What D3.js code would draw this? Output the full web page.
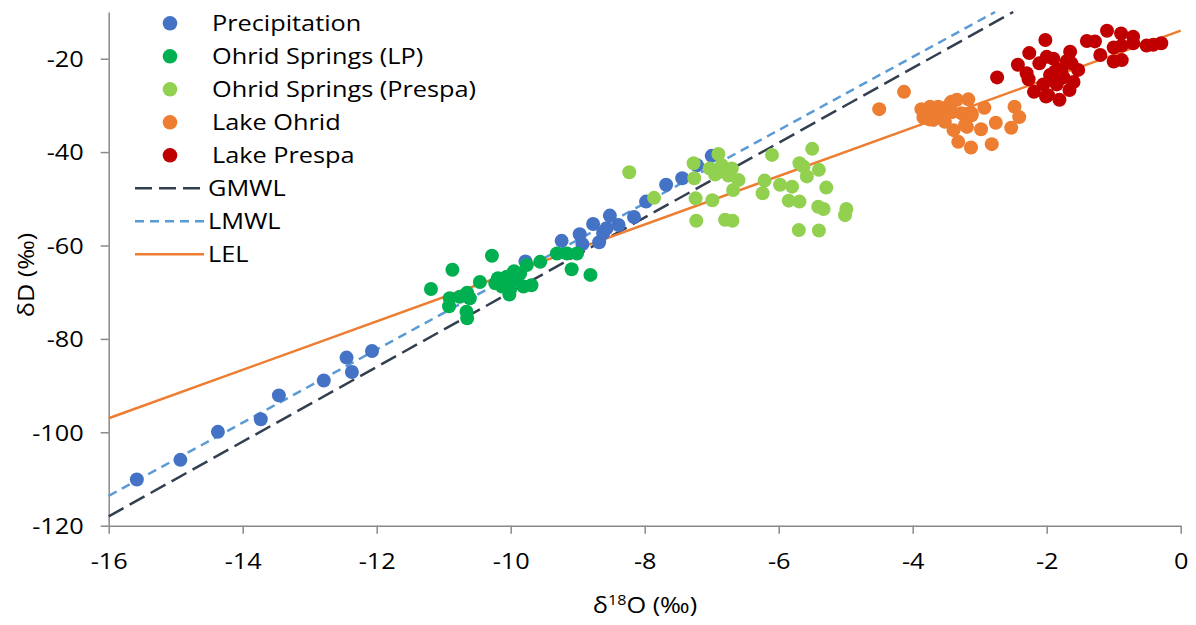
<!DOCTYPE html>
<html lang="en">
<head>
<meta charset="UTF-8">
<title>Isotopes</title>
<script src="https://cdn.jsdelivr.net/npm/d3@7"></script>
<style>
  body{ margin:0; background:#fff; }
  svg{ display:block; font-family:"Open Sans", sans-serif; }
  .axis path, .axis line{ stroke:#898989; stroke-width:1.5; }
  .axis text{ fill:#000; font-size:22px; font-family:"Open Sans", sans-serif; }
  .legendText{ font-size:22px; fill:#000; }
  .title{ font-size:22px; fill:#000; }
</style>
</head>
<body>
<div id="root"></div>
<script>
// δ18O / δD pairs
const precipitation = [
  [-15.58,-110.1],[-14.93,-105.9],[-14.37,-99.9],[-13.73,-97.2],[-13.46,-92.1],[-12.79,-88.9],
  [-12.45,-84.0],[-12.37,-87.1],[-12.07,-82.6],[-9.78,-63.4],[-9.24,-59.0],[-8.97,-57.6],
  [-8.93,-59.7],[-8.77,-55.4],[-8.68,-59.3],[-8.62,-57.4],[-8.57,-56.3],[-8.52,-53.6],
  [-8.39,-55.6],[-8.16,-53.9],[-7.98,-50.6],[-7.68,-47.0],[-7.44,-45.6],[-7.22,-42.8],[-7.0,-40.8]
]
const springsLP = [
  [-11.19,-69.3],[-10.87,-65.2],[-10.28,-62.2],[-10.91,-71.3],[-10.92,-73.0],[-10.76,-71.0],
  [-10.65,-70.1],[-10.61,-71.3],[-10.46,-67.8],[-10.66,-74.2],[-10.65,-75.6],[-10.23,-68.1],
  [-10.19,-67.0],[-10.13,-68.8],[-10.06,-66.7],[-10.01,-69.5],[-10.02,-70.5],[-9.91,-67.4],
  [-9.86,-66.0],[-9.76,-64.2],[-9.81,-68.8],[-9.69,-68.5],[-9.56,-63.5],[-9.31,-61.7],
  [-9.16,-61.7],[-9.01,-61.7],[-9.09,-65.1],[-8.81,-66.3],[-10.1,-67.5],[-10.05,-68.2],[-9.95,-65.5]
]
const springsPrespa = [
  [-8.23,-44.3],[-7.86,-49.8],[-7.27,-42.4],[-7.26,-45.6],[-6.90,-40.4],[-7.03,-43.5],
  [-6.88,-44.2],[-6.95,-44.8],[-6.85,-42.8],[-6.70,-43.5],[-6.75,-45.0],[-6.60,-46.0],
  [-6.68,-48.1],[-7.24,-49.9],[-6.99,-50.3],[-7.23,-54.7],[-6.80,-54.5],[-6.69,-54.7],
  [-6.21,-46.1],[-6.24,-48.8],[-6.10,-40.6],[-5.98,-47.0],[-5.80,-47.4],[-5.85,-50.4],
  [-5.69,-50.6],[-5.70,-56.7],[-5.69,-42.4],[-5.63,-43.1],[-5.58,-45.2],[-5.50,-39.3],
  [-5.40,-43.8],[-5.29,-47.6],[-5.41,-51.7],[-5.33,-52.2],[-5.40,-56.8],[-4.99,-52.2],[-5.01,-53.5]
]
const lakeOhrid = [
  [-4.50,-30.8],[-4.13,-27.1],[-3.87,-30.8],[-3.80,-31.5],[-3.74,-30.3],[-3.62,-30.3],
  [-3.84,-32.6],[-3.69,-32.1],[-3.69,-33.1],[-3.57,-32.4],[-3.59,-31.0],[-3.50,-30.5],
  [-3.44,-29.6],[-3.42,-29.2],[-3.34,-28.8],[-3.17,-28.7],[-3.41,-31.4],[-3.27,-31.7],
  [-3.12,-32.1],[-3.12,-31.7],[-3.39,-35.3],[-3.32,-37.8],[-3.19,-34.6],[-3.13,-39.0],
  [-2.98,-35.1],[-2.93,-30.5],[-2.82,-38.3],[-2.76,-33.7],[-2.53,-34.8],[-2.48,-30.3],
  [-2.41,-32.5],[-3.22,-34.2],[-3.52,-33.5],[-3.75,-33.0]
]
const lakePrespa = [
  [-2.74,-24.0],[-2.43,-21.3],[-2.26,-18.8],[-2.27,-24.4],[-2.19,-27.1],[-2.02,-16.0],
  [-2.11,-21.0],[-2.00,-19.6],[-1.88,-22.8],[-1.88,-24.6],[-1.98,-27.8],[-1.81,-28.8],
  [-1.66,-26.7],[-1.78,-22.2],[-1.65,-18.5],[-1.63,-21.0],[-1.53,-22.4],[-1.40,-16.2],
  [-1.28,-16.3],[-1.20,-19.2],[-1.10,-14.0],[-1.00,-20.6],[-0.89,-14.6],[-1.00,-17.6],
  [-0.88,-17.2],[-0.88,-20.3],[-0.71,-15.3],[-0.71,-16.7],[-0.51,-17.2],[-0.41,-17.0],
  [-0.29,-16.7],[-2.30,-23.1],[-2.01,-28.1],[-1.90,-20.0],[-1.85,-25.5],[-1.75,-24.0],
  [-1.95,-23.5],[-1.70,-20.5],[-1.60,-25.0],[-2.05,-25.5]
]
// line end points (δ18O, δD)
const gmwl = [[-16,-118],[-2.5,-10]]
const lmwl = [[-16,-113.6],[-2.77,-10]]
const lel  = [[-16,-97],[0,-14]]

const xTicks = [-16,-14,-12,-10,-8,-6,-4,-2,0]
const yTicks = [-120,-100,-80,-60,-40,-20]

const width = 1196, height = 625
const plotLeft = 108.7, plotRight = 1180.7, plotTop = 12, plotBottom = 525.7
const SX = 1.15   // source font renders wider than Open Sans, stretch text a bit

const svg = d3.select('#root').append('svg').attr('width',width).attr('height',height)

const xScale = d3.scaleLinear().domain([-16,0]).range([plotLeft,plotRight])
const yScale = d3.scaleLinear().domain([-120,-10]).range([plotBottom,plotTop])

// stretch text horizontally around its own anchor x
const stretch = sel => sel.attr('transform', function(){
  const x = +this.getAttribute('x') || 0
  return `translate(${x},0) scale(${SX},1) translate(${-x},0)`
})
const plainMinus = d => String(d)   // excel uses a hyphen, not the unicode minus

// axes
const xAxis = d3.axisBottom(xScale).tickValues(xTicks).tickFormat(plainMinus)
  .tickSize(8).tickPadding(20).tickSizeOuter(0)
svg.append('g').attr('class','axis').attr('transform',`translate(0,${plotBottom})`).call(xAxis)
  .selectAll('text').call(stretch)

const yAxis = d3.axisLeft(yScale).tickValues(yTicks).tickFormat(plainMinus)
  .tickSize(8).tickPadding(17).tickSizeOuter(0)
svg.append('g').attr('class','axis').attr('transform',`translate(${plotLeft},0)`).call(yAxis)
  .selectAll('text').attr('dy','0.35em').call(stretch)

// lines
const lineGen = d3.line().x(d => xScale(d[0])).y(d => yScale(d[1]))
const lines = [
  {name:'GMWL', data:gmwl, color:'#333F50', dash:'17 7'},
  {name:'LMWL', data:lmwl, color:'#5B9BD5', dash:'9 6'},
  {name:'LEL',  data:lel,  color:'#ED7D31', dash:null}
]
lines.forEach(l => {
  svg.append('path').attr('d', lineGen(l.data))
    .attr('fill','none').attr('stroke',l.color).attr('stroke-width',2.5)
    .attr('stroke-dasharray', l.dash)
})

// points
const series = [
  {name:'Precipitation', data:precipitation, color:'#4472C4'},
  {name:'Ohrid Springs (LP)', data:springsLP, color:'#00B050'},
  {name:'Ohrid Springs (Prespa)', data:springsPrespa, color:'#92D050'},
  {name:'Lake Ohrid', data:lakeOhrid, color:'#ED7D31'},
  {name:'Lake Prespa', data:lakePrespa, color:'#C00000'}
]
series.forEach(s => {
  svg.append('g').selectAll('circle').data(s.data).enter().append('circle')
    .attr('cx', d => xScale(d[0])).attr('cy', d => yScale(d[1]))
    .attr('r', 7).attr('fill', s.color)
})

// legend
const legend = svg.append('g')
series.forEach((s,i) => {
  const y = 23.3 + i*33
  legend.append('circle').attr('cx',170).attr('cy',y).attr('r',7.3).attr('fill',s.color)
  legend.append('text').attr('class','legendText').attr('x',212).attr('y',y)
    .attr('dy','0.36em').text(s.name).call(stretch)
})
lines.forEach((l,i) => {
  const y = 23.3 + (i+5)*33
  legend.append('line').attr('x1',135).attr('x2',204).attr('y1',y).attr('y2',y)
    .attr('stroke',l.color).attr('stroke-width',2.5).attr('stroke-dasharray',l.dash)
  legend.append('text').attr('class','legendText').attr('x',208).attr('y',y)
    .attr('dy','0.36em').text(l.name).call(stretch)
})

// axis titles
svg.append('text').attr('class','title')
  .attr('transform',`translate(26,275) rotate(-90) scale(${SX},1)`)
  .attr('text-anchor','middle').attr('dy','0.36em')
  .style('font-size','22px')
  .text('δD (‰)')

const xt = svg.append('text').attr('class','title').attr('x',645).attr('y',613)
  .attr('text-anchor','middle')
xt.append('tspan').text('δ')
xt.append('tspan').attr('font-size','14px').attr('dy','-8').text('18')
xt.append('tspan').attr('dy','8').text('O (‰)')
xt.call(stretch)
</script>
</body>
</html>
